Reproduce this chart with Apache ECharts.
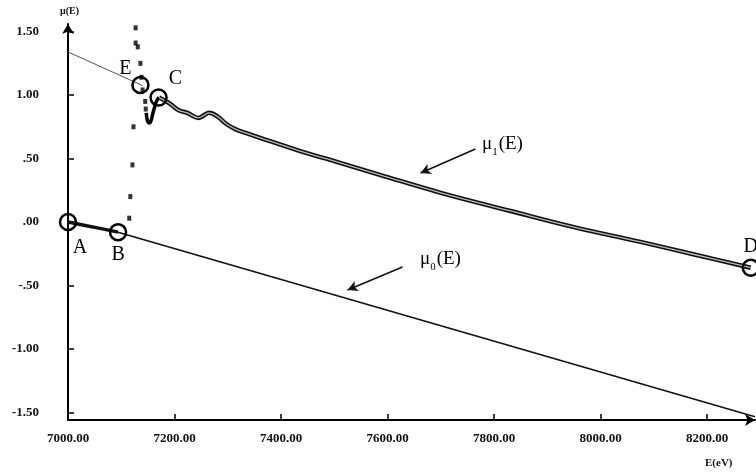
<!DOCTYPE html>
<html>
<head>
<meta charset="utf-8">
<script src="https://cdn.jsdelivr.net/npm/echarts@6/dist/echarts.min.js"></script>
<style>
  html, body { margin: 0; padding: 0; background: #fff; }
  #chart { width: 756px; height: 475px; }
</style>
</head>
<body>
<div id="chart"></div>
<script>
// tick labels
var xTicks = [7000, 7200, 7400, 7600, 7800, 8000, 8200];
var yTicks = [-1.5, -1.0, -0.5, 0.0, 0.5, 1.0, 1.5];

// mu0(E): pre-edge data A..B, then the fitted line
var preE  = [7000, 7030, 7060, 7094];
var preMu = [0.00, -0.025, -0.05, -0.08];
var fitE  = [7094, 8290];
var fitMu = [-0.08, -1.534];

// mu1(E): thin line before the edge
var mu1PreE  = [7000, 7140];
var mu1PreMu = [1.34, 1.075];

// the edge, drawn as dots
var edgeE  = [7115, 7117, 7121, 7123, 7127, 7127, 7131, 7136, 7138, 7140, 7145, 7146];
var edgeMu = [0.03, 0.20, 0.45, 0.75, 1.41, 1.53, 1.38, 1.25, 1.14, 1.04, 0.95, 0.89];

// the dip between the edge and C
var dipE  = [7147, 7148, 7150, 7153, 7156, 7159, 7163, 7167, 7171];
var dipMu = [0.86, 0.82, 0.79, 0.78, 0.80, 0.85, 0.91, 0.96, 0.98];

// mu1(E) after C
var postE  = [7171, 7180, 7192, 7208, 7224, 7245, 7255, 7265, 7281, 7298, 7315, 7335, 7362, 7399, 7450, 7500, 7587, 7700, 7831, 7950, 8075, 8180, 8282];
var postMu = [0.98, 0.96, 0.93, 0.88, 0.86, 0.82, 0.84, 0.86, 0.83, 0.77, 0.73, 0.70, 0.66, 0.61, 0.54, 0.48, 0.37, 0.23, 0.087, -0.04, -0.157, -0.26, -0.36];

// marked points
var ptNames = ['A', 'B', 'E', 'C', 'D'];
var ptE     = [7000, 7094, 7136, 7170, 8282];
var ptMu    = [0.00, -0.08, 1.08, 0.98, -0.36];
var ptOffs  = [[12, 26], [0, 23], [-15, -16], [17, -19], [0, -21]];

// arrows to the curves (from label to curve)
var arrow1 = [[7765, 0.575], [7662, 0.386]];
var arrow0 = [[7628, -0.354], [7525, -0.535]];

var serif = 'Liberation Serif';

function zip(a, b) {
  var out = [];
  for (var i = 0; i < a.length; i++) out.push([a[i], b[i]]);
  return out;
}

function yFmt(v) {
  var s = Math.abs(v).toFixed(2);
  if (Math.abs(v) < 1) s = s.substring(1);
  return (v < 0 ? '-' : '') + s;
}

var chart = echarts.init(document.getElementById('chart'));

var pts = [];
for (var i = 0; i < ptNames.length; i++) {
  pts.push({
    value: [ptE[i], ptMu[i]],
    name: ptNames[i],
    label: { offset: ptOffs[i] }
  });
}

var subRich = {
  m: { fontFamily: serif, fontSize: 19, color: '#111', verticalAlign: 'bottom' },
  s: { fontFamily: serif, fontSize: 11, color: '#111', verticalAlign: 'bottom', padding: [0, 1, -4, 0] }
};

var option = {
  animation: false,
  backgroundColor: '#fff',
  grid: { left: 68, right: 1, top: 24, bottom: 55 },
  xAxis: {
    type: 'value',
    min: 7000,
    max: 8290,
    axisLine: { onZero: false, lineStyle: { color: '#000', width: 2 }, symbol: ['none', 'arrow'], symbolSize: [9, 10] },
    axisTick: { inside: true, length: 6, lineStyle: { color: '#000', width: 1.5 }, customValues: xTicks },
    axisLabel: {
      customValues: xTicks,
      formatter: function (v) { return v.toFixed(2); },
      color: '#111', fontFamily: serif, fontSize: 13, fontWeight: 'bold', margin: 12
    },
    splitLine: { show: false }
  },
  yAxis: {
    type: 'value',
    min: -1.56,
    max: 1.56,
    axisLine: { onZero: false, lineStyle: { color: '#000', width: 2 }, symbol: ['none', 'arrow'], symbolSize: [9, 10] },
    axisTick: { inside: true, length: 6, lineStyle: { color: '#000', width: 1.5 }, customValues: yTicks },
    axisLabel: {
      customValues: yTicks,
      formatter: yFmt,
      color: '#111', fontFamily: serif, fontSize: 13, fontWeight: 'bold', margin: 29
    },
    splitLine: { show: false }
  },
  graphic: [
    { type: 'text', left: 60, top: 6, style: { text: 'μ(E)', font: 'bold 10px "Liberation Serif"', fill: '#111' } },
    { type: 'text', left: 705, top: 458, style: { text: 'E(eV)', font: 'bold 11px "Liberation Serif"', fill: '#111' } },
    { type: 'text', left: 482, top: 135, style: { text: '{m|μ}{s|1}{m|(E)}', rich: subRich } },
    { type: 'text', left: 420, top: 250, style: { text: '{m|μ}{s|0}{m|(E)}', rich: subRich } }
  ],
  series: [
    {
      type: 'line', data: zip(fitE, fitMu), showSymbol: false, z: 2,
      lineStyle: { color: '#111', width: 1.6 },
      markLine: {
        silent: true, symbol: ['none', 'arrow'], symbolSize: [8, 10],
        lineStyle: { color: '#111', width: 1.6, type: 'solid' },
        label: { show: false },
        data: [
          [{ coord: arrow1[0] }, { coord: arrow1[1] }],
          [{ coord: arrow0[0] }, { coord: arrow0[1] }]
        ]
      }
    },
    { type: 'line', data: zip(preE, preMu), showSymbol: false, z: 3, lineStyle: { color: '#111', width: 3.5 } },
    { type: 'line', data: zip(mu1PreE, mu1PreMu), showSymbol: false, z: 2, lineStyle: { color: '#555', width: 1 } },
    {
      type: 'scatter', data: zip(edgeE, edgeMu), symbol: 'rect', symbolSize: [4, 5], z: 3,
      itemStyle: { color: '#000' }
    },
    { type: 'line', data: zip(dipE, dipMu), showSymbol: false, smooth: 0.5, z: 3, lineStyle: { color: '#000', width: 3.5 } },
    { type: 'line', data: zip(postE, postMu), showSymbol: false, smooth: 0.4, z: 3, lineStyle: { color: '#111', width: 4.5 } },
    { type: 'line', data: zip(postE, postMu), showSymbol: false, smooth: 0.4, z: 4, lineStyle: { color: '#bbb', width: 1.3 } },
    {
      type: 'scatter', data: pts, symbol: 'circle', symbolSize: 16, z: 5,
      itemStyle: { color: 'rgba(0,0,0,0)', borderColor: '#000', borderWidth: 2.5, opacity: 1 },
      label: {
        show: true, position: 'inside', formatter: '{b}',
        color: '#000', textBorderWidth: 0, fontFamily: serif, fontSize: 20
      }
    }
  ]
};

chart.setOption(option);
</script>
</body>
</html>
